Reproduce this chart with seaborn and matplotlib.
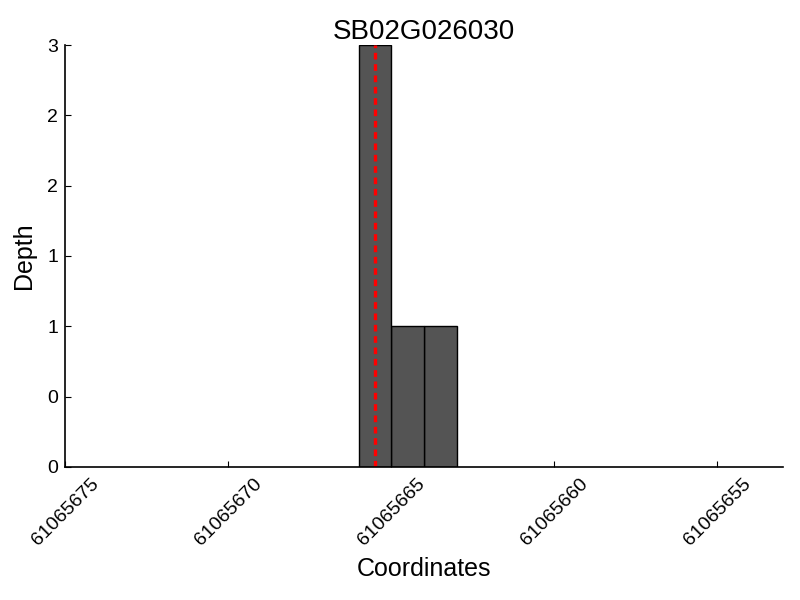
import matplotlib
matplotlib.use("Agg")
import matplotlib.pyplot as plt
import matplotlib.ticker as mticker
import seaborn as sns
import pandas as pd

# read depth per base from the picture
gene_name = "SB02G026030"
positions = [61065663, 61065664, 61065665]
depths = [1, 1, 3]
site = 61065665.5
x_range = (61065675, 61065653)
x_ticks = [61065675, 61065670, 61065665, 61065660, 61065655]

sns.set_style("ticks")
plt.rcParams["font.family"] = ["Liberation Sans", "DejaVu Sans"]
plt.rcParams["text.color"] = "black"
plt.rcParams["axes.labelcolor"] = "black"
plt.rcParams["xtick.color"] = "black"
plt.rcParams["ytick.color"] = "black"
plt.rcParams["axes.edgecolor"] = "black"

df = pd.DataFrame({"pos": positions, "depth": depths})

fig = plt.figure(figsize=(8, 6), dpi=100)
ax = fig.add_axes([0.0816, 0.2217, 0.8966, 0.7033])

sns.histplot(data=df, x="pos", weights="depth", binwidth=1,
             binrange=(min(positions), max(positions) + 1), color="#545454",
             edgecolor="black", linewidth=1, alpha=1, ax=ax)
ax.axvline(site, color="red", linestyle="--", linewidth=2.4, dashes=(2, 1.4))

ax.set_xlim(*x_range)
ax.set_ylim(0, max(depths))
ax.set_xticks(x_ticks)
ax.xaxis.set_major_formatter(mticker.FormatStrFormatter("%d"))
ax.yaxis.set_major_locator(mticker.MultipleLocator(0.5))
ax.yaxis.set_major_formatter(mticker.FormatStrFormatter("%d"))
plt.setp(ax.get_xticklabels(), rotation=45, ha="center")

ax.tick_params(direction="in", length=4, width=0.8, labelsize=14)
ax.tick_params(axis="y", pad=5)
ax.tick_params(axis="x", pad=6)
ax.set_title(gene_name, fontsize=20, pad=3)
ax.set_xlabel("Coordinates", fontsize=18, labelpad=6)
ax.set_ylabel("Depth", fontsize=18, labelpad=8)
sns.despine(ax=ax)
for s in ["left", "bottom"]:
    ax.spines[s].set_linewidth(1.2)

fig.savefig("out.png", dpi=100)
